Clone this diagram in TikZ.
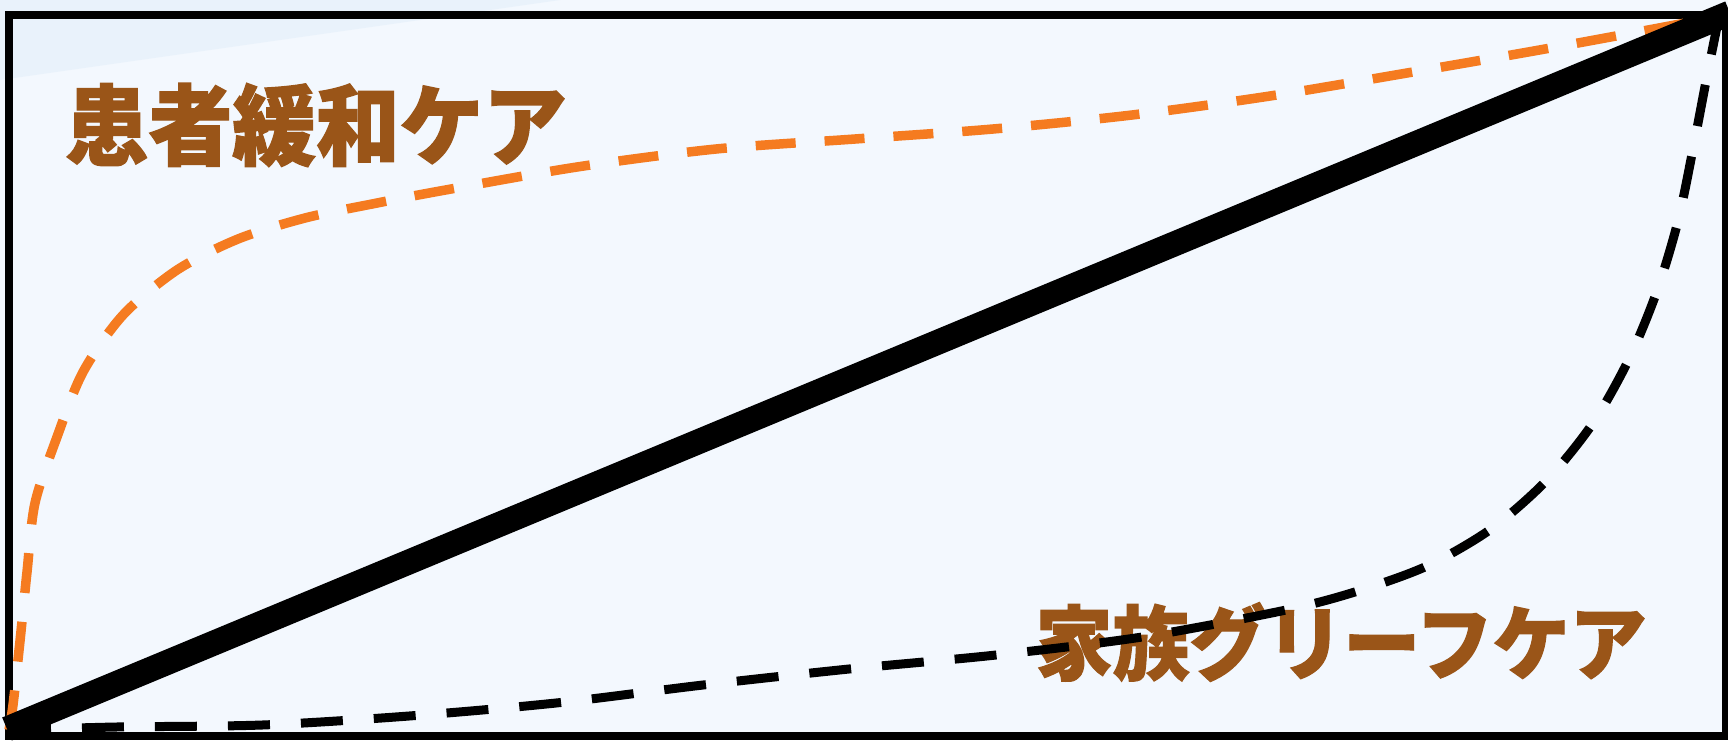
\documentclass[tikz,border=0pt]{standalone}
\usepackage{fontspec}
\newfontfamily\jp{Noto Sans CJK JP}[BoldFeatures={FakeBold=1.5}]
\definecolor{bgblue}{HTML}{F3F8FE}
\definecolor{bgshade}{HTML}{E9F2FB}
\definecolor{txtbrown}{HTML}{9A5518}
\definecolor{dashorange}{HTML}{F57B20}
\begin{document}
\begin{tikzpicture}[x=1pt,y=-1pt,
  caretext/.style={text=txtbrown, inner sep=0pt},
  orangecurve/.style={draw=dashorange, line width=9.5pt, dash pattern=on 40pt off 29pt},
  blackcurve/.style={draw=black, line width=9pt, dash pattern=on 42pt off 31pt},
  diagline/.style={draw=black, line width=25pt},
  framebox/.style={draw=black, line width=7.5pt}]
\useasboundingbox (0,0) rectangle (1728,740);
\fill[bgblue] (0,0) rectangle (1728,740);
\fill[bgshade] (0,0) -- (560,0) -- (0,80) -- cycle;
\draw[framebox] (9,15) rectangle (1726,736);
\node[caretext, font=\jp\bfseries\fontsize{88}{88}\selectfont, xscale=0.95] (patient) at (316,125) {患者緩和ケア};
\node[caretext, font=\jp\bfseries\fontsize{81}{81}\selectfont, xscale=0.95] (family) at (1341,642) {家族グリーフケア};
\coordinate (bl) at (9,730);
\coordinate (trorange) at (1718,16);
\coordinate (trblack) at (1720,12);
\coordinate (diagstart) at (7,729);
\coordinate (diagend) at (1730,13);
\draw[orangecurve] plot[smooth] coordinates {(bl) (13,705) (20,641) (27,572) (35,503) (57,437) (83,372) (123,315) (177,270) (238,239) (305,218) (372,204) (440,191) (577,167) (716,149) (855,139) (993,129) (1132,115) (1270,96) (1407,73) (1545,49) (1680,24) (trorange)};
\draw[blackcurve] plot[smooth] coordinates {(bl) (116,727) (262,725) (409,716) (556,703) (703,685) (849,669) (996,655) (1142,637) (1286,610) (1358,591) (1427,566) (1491,529) (1547,480) (1593,423) (1629,359) (1657,291) (1678,221) (1693,149) (1707,76) (trblack)};
\draw[diagline] (diagstart) -- (diagend);
\end{tikzpicture}
\end{document}
